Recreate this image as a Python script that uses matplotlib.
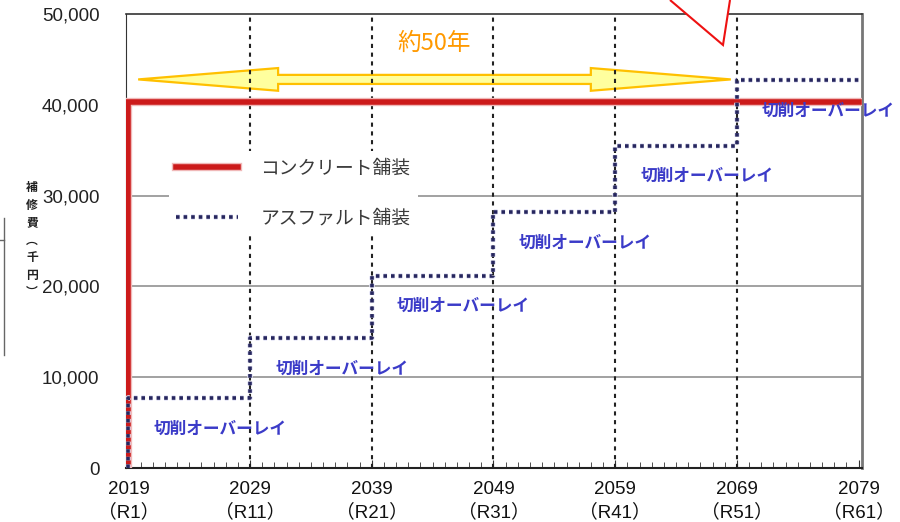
import matplotlib
matplotlib.use('Agg')
import matplotlib.pyplot as plt
import matplotlib.patches as mpatches
import matplotlib.patheffects as pe
from matplotlib.ticker import MultipleLocator

plt.rcParams['font.family'] = ['Liberation Sans', 'Noto Sans CJK JP', 'DejaVu Sans']
JP = ['Noto Sans CJK JP', 'DejaVu Sans']

# データ
years = [2019, 2029, 2039, 2049, 2059, 2069, 2079]
reiwa = ['R1', 'R11', 'R21', 'R31', 'R41', 'R51', 'R61']
concrete_cost = 40300          # コンクリート舗装（初期費用のみ）
asphalt_cost = [7700, 14300, 21200, 28200, 35500, 42700]   # 累計
overlay_label = '切削オーバーレイ'
span_label = '約50年'
span_years = [2019.8, 2068.5]
span_level = 42800
ylabel_chars = ['補', '修', '費', '︵', '千', '円', '︶']

fig = plt.figure(figsize=(9, 5.22), dpi=100)
ax = fig.add_axes([0.14, 0.1034, 0.818, 0.8697])

ax.set_xlim(2018.8, 2079.3)
ax.set_ylim(0, 50000)

# グリッド
for v in range(10000, 50000, 10000):
    ax.axhline(v, color='#9a9a9a', lw=1.3, zorder=1)
for yr in years[1:-1]:
    ax.axvline(yr, color='#222222', lw=1.5, ls=(0, (2, 2.2)), zorder=2.5)

# 矢印（約50年）
x0, x1 = span_years
L, w, h = 11.5, 500, 1250
yc = span_level
pts = [(x0, yc), (x0 + L, yc + h), (x0 + L, yc + w), (x1 - L, yc + w), (x1 - L, yc + h),
       (x1, yc), (x1 - L, yc - h), (x1 - L, yc - w), (x0 + L, yc - w), (x0 + L, yc - h)]
arrow = mpatches.Polygon(pts, closed=True, facecolor='#ffff9e', edgecolor='#ffc000',
                         lw=1.6, zorder=2)
ax.add_patch(arrow)
ax.annotate(span_label, xy=((x0 + x1) / 2, yc), xytext=(0, 26), textcoords='offset points',
            ha='center', va='center', fontsize=17, color='#ff9900', family=JP)

# コンクリート舗装
ax.plot([years[0], years[0], years[-1]], [0, concrete_cost, concrete_cost],
        color='#cc1a1a', lw=4, solid_joinstyle='miter', zorder=3,
        path_effects=[pe.Stroke(linewidth=6, foreground='#f0b8b8'), pe.Normal()],
        label='コンクリート舗装')

# アスファルト舗装
ax.step([years[0]] + years, [0] + asphalt_cost + [asphalt_cost[-1]], where='post',
        color='#26265e', lw=2.6, ls=(0, (1, 1.1)), zorder=4, label='アスファルト舗装',
        path_effects=[pe.Stroke(linewidth=4, foreground='#e4e4f6'), pe.Normal()])

for yr, c in zip(years[:-1], asphalt_cost):
    ax.annotate(overlay_label, xy=(yr, c), xytext=(66, -22), textcoords='offset points',
                ha='center', va='center', fontsize=12, fontweight='bold',
                color='#3b3bc8', family=JP, zorder=5)

leg = ax.legend(loc='upper left', bbox_to_anchor=(0.045, 0.72), frameon=True,
                facecolor='white', edgecolor='none', framealpha=1, fancybox=False,
                handlelength=3.3, handletextpad=1.2, labelspacing=1.5,
                prop={'family': JP, 'size': 13.5})
leg.set_zorder(3.5)
for t in leg.get_texts():
    t.set_color('#3a3a3a')

# 軸
ax.set_yticks(range(0, 50001, 10000))
ax.set_yticklabels([f'{v:,}' for v in range(0, 50001, 10000)], fontsize=13.5, color='#222222')
ax.tick_params(axis='y', length=0, pad=19)
ax.set_xticks(years)
ax.set_xticklabels([f'{y}\n（{r}）' for y, r in zip(years, reiwa)], fontsize=13.5,
                   color='#111111', linespacing=1.4)
ax.xaxis.set_minor_locator(MultipleLocator(1))
ax.tick_params(axis='x', which='both', direction='in', pad=9, color='#333333')
ax.tick_params(axis='x', which='major', length=6)
ax.tick_params(axis='x', which='minor', length=4)

ax.spines['top'].set_color('#333333')
ax.spines['top'].set_linewidth(1.2)
ax.spines['right'].set_color('#777777')
ax.spines['right'].set_linewidth(2)
ax.spines['bottom'].set_color('#222222')
ax.spines['bottom'].set_linewidth(1.5)
ax.spines['left'].set_color('#333333')

fig.text(32 / 900, 0.54, '\n'.join(ylabel_chars), ha='center', va='center', fontsize=8.5,
         fontweight='bold', color='#222222', linespacing=1.45, family=JP)

# 吹き出しの先端（右上）
tip = mpatches.Polygon([(670 / 900, 1.0), (723 / 900, 1 - 45 / 522), (730 / 900, 1.0)],
                       closed=False, facecolor='white', edgecolor='#ee1111', lw=1.5,
                       transform=fig.transFigure, zorder=6)
fig.add_artist(tip)

# 左端の切れた枠
fig.add_artist(plt.Line2D([4 / 900, 4 / 900], [1 - 218 / 522, 1 - 355 / 522],
                          color='#666666', lw=1, transform=fig.transFigure))
fig.add_artist(plt.Line2D([0, 4 / 900], [1 - 240 / 522, 1 - 240 / 522],
                          color='#666666', lw=1, transform=fig.transFigure))

fig.savefig('out.png', dpi=100)
